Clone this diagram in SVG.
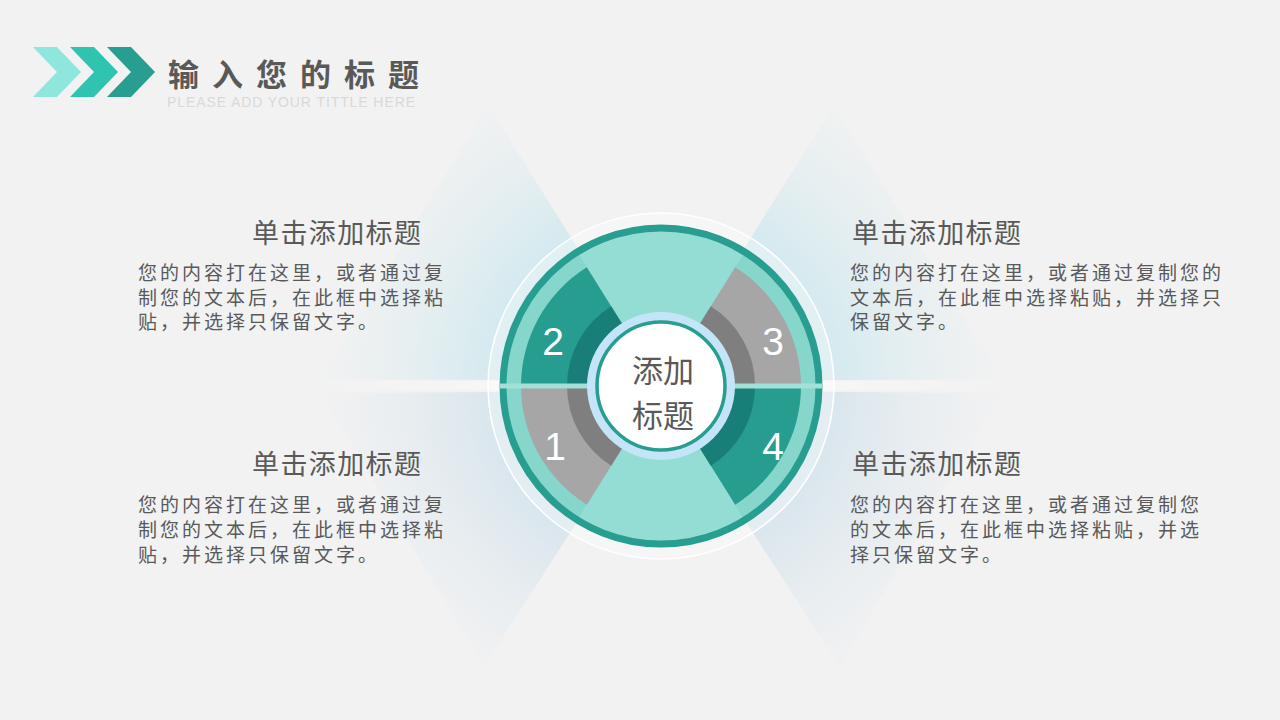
<svg xmlns="http://www.w3.org/2000/svg" width="1280" height="720" viewBox="0 0 1280 720">
<defs>
<style>
.hd{font-family:"Noto Sans CJK SC","Noto Sans",sans-serif;fill:#595959;}
.ttl{font-size:27px;letter-spacing:1.4px;}
.body{font-size:19px;letter-spacing:3px;}
.num{font-family:"Liberation Sans",Arial,sans-serif;font-size:39px;fill:#ffffff;text-anchor:middle;}
</style>
<radialGradient id="gU" gradientUnits="userSpaceOnUse" cx="661" cy="386" r="360">
<stop offset="0" stop-color="#b5e1e7" stop-opacity="0.95"/>
<stop offset="0.5" stop-color="#cde8ee" stop-opacity="0.75"/>
<stop offset="1" stop-color="#e6eef2" stop-opacity="0"/>
</radialGradient>
<radialGradient id="gD" gradientUnits="userSpaceOnUse" cx="661" cy="386" r="360">
<stop offset="0" stop-color="#bcdce6" stop-opacity="0.95"/>
<stop offset="0.5" stop-color="#d3e3ec" stop-opacity="0.75"/>
<stop offset="1" stop-color="#e6ecf1" stop-opacity="0"/>
</radialGradient>
<linearGradient id="gBand" x1="320" y1="0" x2="1000" y2="0" gradientUnits="userSpaceOnUse">
<stop offset="0" stop-color="#ffffff" stop-opacity="0"/>
<stop offset="0.3" stop-color="#ffffff" stop-opacity="0.4"/>
<stop offset="0.7" stop-color="#ffffff" stop-opacity="0.4"/>
<stop offset="1" stop-color="#ffffff" stop-opacity="0"/>
</linearGradient>
<clipPath id="cc"><circle cx="661" cy="386" r="161.5"/></clipPath>
</defs>
<rect width="1280" height="720" fill="#f2f2f2"/>

<g id="header">
<polygon points="33,47 57,47 81,72 57,97 33,97 57,72" fill="#8fe6dc"/>
<polygon points="70,47 94,47 118,72 94,97 70,97 94,72" fill="#2ec4b0"/>
<polygon points="107,47 131,47 155,72 131,97 107,97 131,72" fill="#279e8f"/>
<text x="168" y="86" font-family="'Noto Sans CJK SC','Noto Sans',sans-serif" font-size="31" font-weight="bold" letter-spacing="13" fill="#595959">输入您的标题</text>
<text x="167" y="107" font-family="'Liberation Sans',Arial,sans-serif" font-size="14" fill="#d9d9d9" textLength="248" lengthAdjust="spacing">PLEASE ADD YOUR TITTLE HERE</text>
</g>

<g id="background-rays">
<polygon points="661,381 488,105 320,379" fill="url(#gU)"/>
<polygon points="661,381 834,105 1002,379" fill="url(#gU)"/>
<polygon points="661,391 484,667 320,393" fill="url(#gD)"/>
<polygon points="661,391 840,667 1002,393" fill="url(#gD)"/>
<rect x="320" y="381" width="680" height="9" fill="url(#gBand)"/>
</g>

<g id="wheel">
<circle cx="661" cy="386" r="173" fill="#ffffff" fill-opacity="0.3" stroke="#ffffff" stroke-width="1.5"/>
<circle cx="661" cy="386" r="158" fill="#94ddd4"/>
<path d="M661,386 L577.28,252.02 A158,158 0 0 0 577.28,519.98 Z" fill="#86d6cc"/>
<path d="M661,386 L744.72,519.98 A158,158 0 0 0 744.72,252.02 Z" fill="#86d6cc"/>
<circle cx="661" cy="386" r="158" fill="none" stroke="#279e8f" stroke-width="7"/>
</g>

<g id="node-2">
<path d="M661,386 L586.81,267.28 A140,140 0 0 0 521,386 Z" fill="#279d8f"/>
<path d="M661,386 L611.19,306.29 A94,94 0 0 0 567,386 Z" fill="#187e77"/>
<text class="num" x="553" y="355">2</text>
</g>
<g id="node-1">
<path d="M661,386 L521,386 A140,140 0 0 0 586.81,504.72 Z" fill="#a6a6a6"/>
<path d="M661,386 L567,386 A94,94 0 0 0 611.19,465.71 Z" fill="#7f7f7f"/>
<text class="num" x="555" y="460">1</text>
</g>
<g id="node-3">
<path d="M661,386 L801,386 A140,140 0 0 0 735.19,267.28 Z" fill="#a6a6a6"/>
<path d="M661,386 L755,386 A94,94 0 0 0 710.81,306.29 Z" fill="#7f7f7f"/>
<text class="num" x="773" y="355">3</text>
</g>
<g id="node-4">
<path d="M661,386 L735.19,504.72 A140,140 0 0 0 801,386 Z" fill="#279d8f"/>
<path d="M661,386 L710.81,465.71 A94,94 0 0 0 755,386 Z" fill="#187e77"/>
<text class="num" x="773" y="460">4</text>
</g>

<g id="divider">
<rect x="495" y="383.5" width="332" height="5" fill="#a2e0d8" clip-path="url(#cc)"/>
</g>

<g id="center">
<circle cx="661" cy="386" r="74" fill="#c3e5f7"/>
<circle cx="661" cy="386" r="64" fill="#ffffff" stroke="#279e8f" stroke-width="3.5"/>
<text class="hd" font-size="31" text-anchor="middle"><tspan x="663" y="382">添加</tspan><tspan x="663" y="427">标题</tspan></text>
</g>

<g id="text-2">
<text class="hd ttl" x="252" y="243">单击添加标题</text>
<text class="hd body" x="138" y="280">您的内容打在这里，或者通过复</text>
<text class="hd body" x="138" y="304.5">制您的文本后，在此框中选择粘</text>
<text class="hd body" x="138" y="329">贴，并选择只保留文字。</text>
</g>
<g id="text-1">
<text class="hd ttl" x="252" y="474">单击添加标题</text>
<text class="hd body" x="138" y="512">您的内容打在这里，或者通过复</text>
<text class="hd body" x="138" y="537">制您的文本后，在此框中选择粘</text>
<text class="hd body" x="138" y="562">贴，并选择只保留文字。</text>
</g>
<g id="text-3">
<text class="hd ttl" x="852" y="243">单击添加标题</text>
<text class="hd body" x="850" y="280">您的内容打在这里，或者通过复制您的</text>
<text class="hd body" x="850" y="304.5">文本后，在此框中选择粘贴，并选择只</text>
<text class="hd body" x="850" y="329">保留文字。</text>
</g>
<g id="text-4">
<text class="hd ttl" x="852" y="474">单击添加标题</text>
<text class="hd body" x="850" y="512">您的内容打在这里，或者通过复制您</text>
<text class="hd body" x="850" y="537">的文本后，在此框中选择粘贴，并选</text>
<text class="hd body" x="850" y="562">择只保留文字。</text>
</g>
</svg>
